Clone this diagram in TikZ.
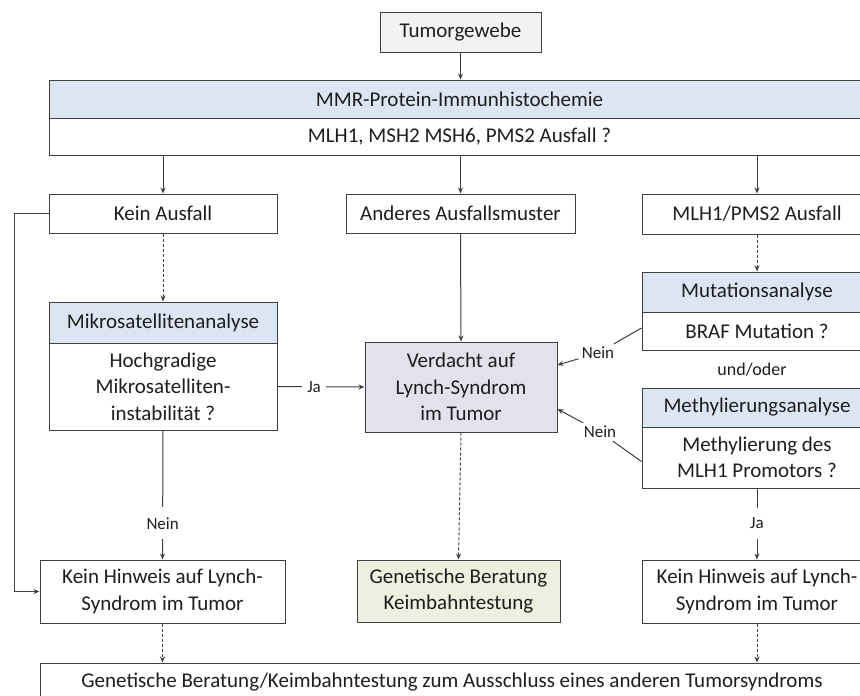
\documentclass[tikz,border=0pt]{standalone}
\usepackage{fontspec}
\setmainfont{Carlito}
\usetikzlibrary{arrows.meta,calc}
\definecolor{ln}{HTML}{404040}
\definecolor{tx}{HTML}{1E1E1E}
\definecolor{hdr}{HTML}{DCE6F2}
\definecolor{lav}{HTML}{E4E0EC}
\definecolor{grn}{HTML}{EBF1DE}
\definecolor{gry}{HTML}{F2F2F2}
\begin{document}
\begin{tikzpicture}[x=1pt,y=-1pt,
  box/.style={draw=ln, line width=1pt, inner sep=2pt, align=center, text=tx,
    font=\fontsize{21}{26.5}\selectfont},
  lbl/.style={fill=white, inner xsep=5pt, inner ysep=9pt, text=tx,
    font=\fontsize{17}{19}\selectfont},
  conn/.style={draw=ln, line width=1pt},
  arr/.style={conn, -{Stealth[length=6pt,width=5pt]}},
  dsh/.style={arr, dash pattern=on 3pt off 2pt}]
\useasboundingbox[fill=white] (0,0) rectangle (860,696);

% nodes
\node[box, fill=gry, minimum width=161pt, minimum height=40pt] (tum) at (460.5,32) {Tumorgewebe};
\node[box, fill=hdr, minimum width=821pt, minimum height=38pt] (mmrh) at (459.5,99) {MMR-Protein-Immunhistochemie};
\node[box, minimum width=821pt, minimum height=37pt] (mmrb) at (459.5,136.5) {MLH1, MSH2 MSH6, PMS2 Ausfall ?};

\node[box, minimum width=228pt, minimum height=39pt] (kein) at (163,213.5) {Kein Ausfall};
\node[box, minimum width=229pt, minimum height=39pt] (and) at (460.5,213.5) {Anderes Ausfallsmuster};
\node[box, minimum width=230pt, minimum height=40pt] (mlh) at (757,214) {MLH1/PMS2 Ausfall};

\node[box, fill=hdr, minimum width=228pt, minimum height=41pt] (mikh) at (163,322.5) {Mikrosatellitenanalyse};
\node[box, minimum width=228pt, minimum height=87pt] (mikb) at (163,386.5) {Hochgradige\\Mikrosatelliten-\\instabilität ?};

\node[box, fill=lav, minimum width=192pt, minimum height=90pt] (ver) at (461,387) {Verdacht auf\\Lynch-Syndrom\\im Tumor};

\node[box, fill=hdr, minimum width=230pt, minimum height=40pt] (muth) at (757,292) {Mutationsanalyse};
\node[box, minimum width=230pt, minimum height=38pt] (mutb) at (757,331) {BRAF Mutation ?};
\node[text=tx, font=\fontsize{18}{20}\selectfont] (uo) at (752,370) {und/oder};
\node[box, fill=hdr, minimum width=230pt, minimum height=39pt] (meth) at (757,407.5) {Methylierungsanalyse};
\node[box, minimum width=230pt, minimum height=61pt] (metb) at (757,457.5) {Methylierung des\\MLH1 Promotors ?};

\node[box, minimum width=245pt, minimum height=63pt] (kh1) at (162.5,591.5) {Kein Hinweis auf Lynch-\\Syndrom im Tumor};
\node[box, fill=grn, minimum width=203pt, minimum height=62pt] (gen) at (458.5,591) {Genetische Beratung\\Keimbahntestung};
\node[box, minimum width=230pt, minimum height=63pt] (kh2) at (757,591.5) {Kein Hinweis auf Lynch-\\Syndrom im Tumor};

\node[box, minimum width=824pt, minimum height=39pt] (bot) at (452,682.5) {Genetische Beratung/Keimbahntestung zum Ausschluss eines anderen Tumorsyndroms};

% connectors
\draw[arr] (tum.south) -- (tum.south |- mmrh.north);
\draw[arr] (kein.north |- mmrb.south) -- (kein.north);
\draw[arr] (and.north |- mmrb.south) -- (and.north);
\draw[arr] (mlh.north |- mmrb.south) -- (mlh.north);

\draw[arr] (kein.west) -- ++(-34,0) |- (kh1.west);
\draw[dsh] (kein.south) -- (mikh.north);
\draw[arr] (mikb.east) -- node[lbl, pos=0.42, inner ysep=3pt] {Ja} (ver.west);
\draw[arr] (mikb.south) -- node[lbl, pos=0.72, inner ysep=10pt] {Nein} (kh1.north);

\draw[arr] (and.south) -- (ver.north);
\draw[dsh] (ver.south) -- (gen.north);

\draw[dsh] (mlh.south) -- (muth.north);
\draw[arr] (metb.south) -- node[lbl, pos=0.49, inner ysep=10pt] {Ja} (kh2.north);

\node[lbl, inner sep=3pt] (n1) at (598,353) {Nein};
\draw[conn] ($(mutb.west)+(0,-3)$) -- (n1);
\draw[arr] (n1) -- ($(ver.east)+(0,-22)$);
\node[lbl, inner sep=3pt] (n2) at (600,432) {Nein};
\draw[conn] ($(metb.west)+(0,4)$) -- (n2);
\draw[arr] (n2) -- ($(ver.east)+(0,22)$);

\draw[dsh] (kh1.south) -- (kh1.south |- bot.north);
\draw[dsh] (kh2.south) -- (kh2.south |- bot.north);
\end{tikzpicture}
\end{document}
